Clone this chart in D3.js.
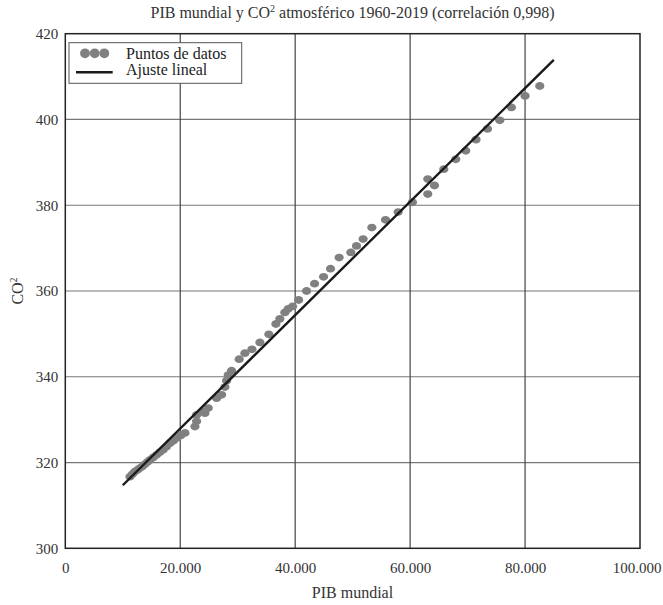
<!DOCTYPE html>
<html><head><meta charset="utf-8">
<script src="https://cdn.jsdelivr.net/npm/d3@7"></script>
<style>body{margin:0;background:#fff}svg{display:block}</style>
</head><body>
<script>
const gdp = [11250,11700,12120,12600,12990,13400,13860,14300,14730,15300,15890,16450,17040,17600,18210,18800,19370,20100,20820,22560,22850,22850,24000,24290,24870,26330,27200,27770,28070,28350,28930,30260,31250,32470,33860,35420,36640,37330,38200,38780,39540,40600,41980,43370,44940,46150,47650,49680,50670,51820,53340,55720,57910,60400,63070,63070,64240,65860,67940,69680,71470,73460,75600,77630,80000,82557];
const co2 = [316.7,317.3,317.9,318.3,318.7,319.1,319.6,320.1,320.6,321.2,321.8,322.4,323.0,323.7,324.5,325.1,325.7,326.3,326.9,328.4,329.6,331.1,331.9,331.5,332.7,335.0,335.8,337.6,339.1,340.4,341.4,344.1,345.5,346.4,348.0,349.9,352.3,353.5,355.0,355.8,356.4,357.9,360.0,361.7,363.3,365.2,367.8,369.0,370.5,372.1,374.8,376.6,378.4,380.7,386.1,382.6,384.6,388.4,390.7,392.7,395.3,397.8,399.8,402.8,405.5,407.8];
const fitX = [10000, 85000];
const fitY = [314.7, 413.9];
const xTicks = [0,20000,40000,60000,80000,100000];
const yTicks = [300,320,340,360,380,400,420];
const legendLabels = ["Puntos de datos","Ajuste lineal"];

const W=663,H=605;
const m={l:65.3,r:640,t:33.7,b:548.3};
const svg=d3.select("body").append("svg").attr("width",W).attr("height",H);
const font="'Liberation Serif', 'DejaVu Serif', serif";
const x=d3.scaleLinear().domain([0,100000]).range([m.l,m.r]);
const y=d3.scaleLinear().domain([300,420]).range([m.b,m.t]);
const fmt=v=>d3.format(",")(v).replace(/,/g,".");

// grid
svg.append("g").selectAll("line").data(yTicks.slice(1,-1)).join("line")
  .attr("x1",m.l).attr("x2",m.r).attr("y1",d=>y(d)).attr("y2",d=>y(d))
  .attr("stroke","#777").attr("stroke-width",1.2);
svg.append("g").selectAll("line").data(xTicks.slice(1,-1)).join("line")
  .attr("y1",m.t).attr("y2",m.b).attr("x1",d=>x(d)).attr("x2",d=>x(d))
  .attr("stroke","#444").attr("stroke-width",1.2);

// axes (labels only)
const xa=svg.append("g").attr("transform",`translate(0,${m.b})`)
  .call(d3.axisBottom(x).tickValues(xTicks).tickFormat(fmt).tickSize(0).tickPadding(14));
const ya=svg.append("g").attr("transform",`translate(${m.l},0)`)
  .call(d3.axisLeft(y).tickValues(yTicks).tickSize(0).tickPadding(7));
[xa,ya].forEach(a=>{a.select(".domain").remove();a.selectAll("text").attr("font-family",font).attr("font-size",15).attr("fill","#333");});
xa.selectAll("text").filter(d=>d===100000).attr("text-anchor","end").attr("x",W-2-m.r);

// border
svg.append("rect").attr("x",m.l).attr("y",m.t).attr("width",m.r-m.l).attr("height",m.b-m.t)
  .attr("fill","none").attr("stroke","#222").attr("stroke-width",1.5);

// points
svg.append("g").selectAll("ellipse").data(gdp.map((g,i)=>[g,co2[i]])).join("ellipse")
  .attr("cx",d=>x(d[0])).attr("cy",d=>y(d[1])).attr("rx",4.6).attr("ry",3.9).attr("fill","#808080");

// fit line
svg.append("line").attr("x1",x(fitX[0])).attr("y1",y(fitY[0])).attr("x2",x(fitX[1])).attr("y2",y(fitY[1]))
  .attr("stroke","#1a1a1a").attr("stroke-width",2.4);

// legend
const lg=svg.append("g");
lg.append("rect").attr("x",69).attr("y",42.7).attr("width",172.7).attr("height",40.6)
  .attr("fill","#fff").attr("stroke","#555").attr("stroke-width",1);
[85,94.7,104.3].forEach(cx=>lg.append("circle").attr("cx",cx).attr("cy",53.3).attr("r",4.9).attr("fill","#808080"));
lg.append("line").attr("x1",76).attr("x2",112.7).attr("y1",72.3).attr("y2",72.3).attr("stroke","#1a1a1a").attr("stroke-width",2.4);
lg.selectAll("text.l").data(legendLabels).join("text").attr("class","l")
  .attr("x",126).attr("y",(d,i)=>59+i*16).text(d=>d)
  .attr("font-family",font).attr("font-size",16).attr("fill","#222");

// title
const t=svg.append("text").attr("x",352.5).attr("y",18).attr("text-anchor","middle")
  .attr("font-family",font).attr("font-size",16).attr("fill","#333");
t.append("tspan").text("PIB mundial y CO");
t.append("tspan").text("2").attr("font-size",10).attr("dy",-6);
t.append("tspan").text(" atmosférico 1960-2019 (correlación 0,998)").attr("dy",6);

// x label
svg.append("text").attr("x",352.5).attr("y",598).attr("text-anchor","middle")
  .attr("font-family",font).attr("font-size",16).attr("fill","#333").text("PIB mundial");
// y label
const yl=svg.append("text").attr("transform","translate(23,291) rotate(-90)").attr("text-anchor","middle")
  .attr("font-family",font).attr("font-size",16).attr("fill","#333");
yl.append("tspan").text("CO");
yl.append("tspan").text("2").attr("font-size",10).attr("dy",-6);
</script>
</body></html>
